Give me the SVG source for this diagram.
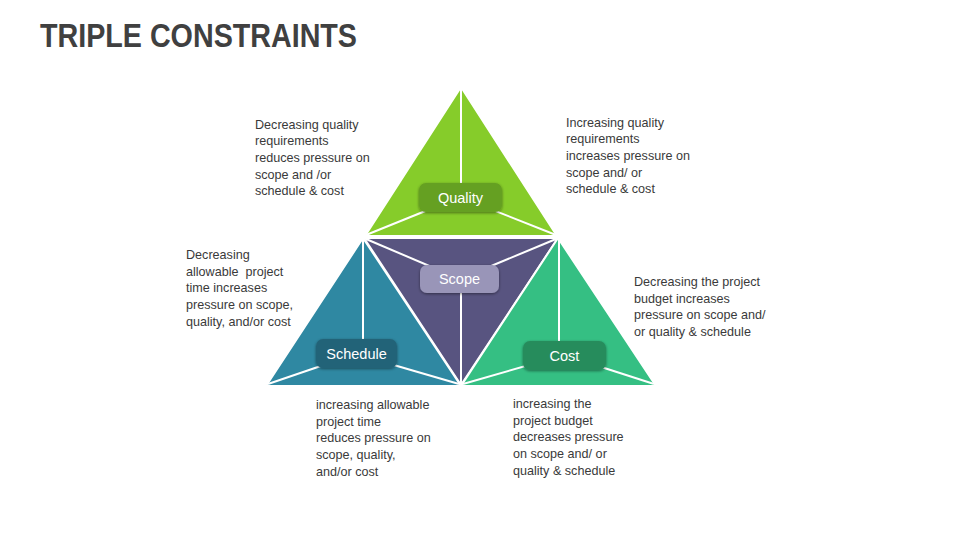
<svg xmlns="http://www.w3.org/2000/svg" width="960" height="540" viewBox="0 0 960 540">
<defs>
<filter id="sh" x="-20%" y="-30%" width="140%" height="160%">
<feGaussianBlur in="SourceAlpha" stdDeviation="1.5"/>
<feOffset dx="0" dy="1" result="b"/>
<feComponentTransfer><feFuncA type="linear" slope="0.45"/></feComponentTransfer>
<feMerge><feMergeNode/><feMergeNode in="SourceGraphic"/></feMerge>
</filter>
</defs>
<style>
.tri{stroke:#ffffff;stroke-width:2;stroke-linejoin:miter}
.sp{stroke:#ffffff;stroke-width:2;fill:none}
.lbl{font-family:"Liberation Sans",Arial,sans-serif;font-size:14.5px;fill:#ffffff;text-anchor:middle}
.txt{font-family:"Liberation Sans",Arial,sans-serif;font-size:12.6px;fill:#3a3a3a}
.title{font-family:"Liberation Sans",Arial,sans-serif;font-weight:bold;font-size:33px;fill:#404040}
</style>
<rect width="960" height="540" fill="#ffffff"/>
<text class="title" x="40" y="47" textLength="317" lengthAdjust="spacingAndGlyphs">TRIPLE CONSTRAINTS</text>

<g id="quality">
<polygon class="tri" points="461,87 365,236 557,236" fill="#86cc2a"/>
<g class="sp"><line x1="461" y1="88" x2="461" y2="197"/><line x1="366" y1="235" x2="460" y2="197"/><line x1="556" y1="235" x2="460" y2="197"/></g>
<rect x="419" y="183" width="83" height="29" rx="7" fill="#65a020" filter="url(#sh)"/>
<text class="lbl" x="460.5" y="202.5">Quality</text>
</g>

<g id="scope">
<polygon class="tri" points="364,238 558,238 461,385" fill="#585480"/>
<g class="sp"><line x1="366" y1="239" x2="460" y2="279"/><line x1="556" y1="239" x2="460" y2="279"/><line x1="461" y1="384" x2="461" y2="279"/></g>
<rect x="420" y="265" width="79" height="28" rx="7" fill="#9995b8" filter="url(#sh)"/>
<text class="lbl" x="459.5" y="284">Scope</text>
</g>

<g id="schedule">
<polygon class="tri" points="363,238 266,386 461,386" fill="#2f88a2"/>
<g class="sp"><line x1="363" y1="240" x2="363" y2="353"/><line x1="268" y1="384" x2="356" y2="354"/><line x1="459" y1="384" x2="356" y2="354"/></g>
<rect x="316" y="339" width="81" height="29" rx="7" fill="#246478" filter="url(#sh)"/>
<text class="lbl" x="356.5" y="358.5">Schedule</text>
</g>

<g id="cost">
<polygon class="tri" points="558,238 461,386 656,386" fill="#35bf83"/>
<g class="sp"><line x1="559" y1="240" x2="559" y2="355"/><line x1="463" y1="384" x2="564" y2="355"/><line x1="654" y1="384" x2="564" y2="355"/></g>
<rect x="523" y="341" width="83" height="29" rx="7" fill="#278c5c" filter="url(#sh)"/>
<text class="lbl" x="564.5" y="360.5">Cost</text>
</g>

<g id="connectors"></g>

<g id="notes">
<text class="txt" x="255" y="128.5"><tspan x="255">Decreasing quality</tspan><tspan x="255" dy="16.7">requirements</tspan><tspan x="255" dy="16.7">reduces pressure on</tspan><tspan x="255" dy="16.7">scope and /or</tspan><tspan x="255" dy="16.7">schedule &amp; cost</tspan></text>
<text class="txt" x="566" y="126.5"><tspan x="566">Increasing quality</tspan><tspan x="566" dy="16.7">requirements</tspan><tspan x="566" dy="16.7">increases pressure on</tspan><tspan x="566" dy="16.7">scope and/ or</tspan><tspan x="566" dy="16.7">schedule &amp; cost</tspan></text>
<text class="txt" x="186" y="259"><tspan x="186">Decreasing</tspan><tspan x="186" dy="16.7">allowable&#160; project</tspan><tspan x="186" dy="16.7">time increases</tspan><tspan x="186" dy="16.7">pressure on scope,</tspan><tspan x="186" dy="16.7">quality, and/or cost</tspan></text>
<text class="txt" x="634" y="286"><tspan x="634">Decreasing the project</tspan><tspan x="634" dy="16.7">budget increases</tspan><tspan x="634" dy="16.7">pressure on scope and/</tspan><tspan x="634" dy="16.7">or quality &amp; schedule</tspan></text>
<text class="txt" x="316" y="409"><tspan x="316">increasing allowable</tspan><tspan x="316" dy="16.7">project time</tspan><tspan x="316" dy="16.7">reduces pressure on</tspan><tspan x="316" dy="16.7">scope, quality,</tspan><tspan x="316" dy="16.7">and/or cost</tspan></text>
<text class="txt" x="513" y="408"><tspan x="513">increasing the</tspan><tspan x="513" dy="16.7">project budget</tspan><tspan x="513" dy="16.7">decreases pressure</tspan><tspan x="513" dy="16.7">on scope and/ or</tspan><tspan x="513" dy="16.7">quality &amp; schedule</tspan></text>
</g>
</svg>
